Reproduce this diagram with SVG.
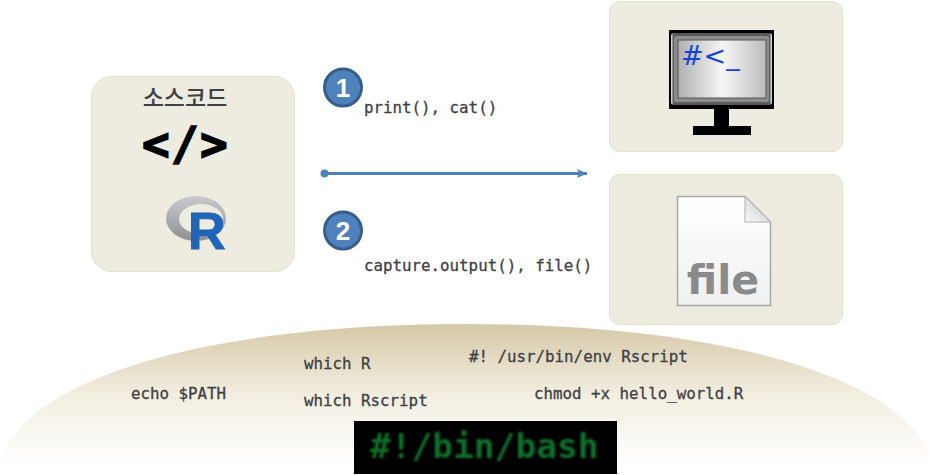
<svg xmlns="http://www.w3.org/2000/svg" width="933" height="475" viewBox="0 0 933 475">
<style>
.card{fill:#eeece1;stroke:#dde5c5;stroke-width:1}
.code{font-family:"DejaVu Sans Mono","Liberation Mono",monospace;font-size:15.8px;fill:#3f3f46;stroke:#3f3f46;stroke-width:.3}
.badge{fill:#4f81bd;stroke:#385d8a;stroke-width:3}
.num{font-family:"Liberation Sans",Arial,sans-serif;font-size:26px;font-weight:700;fill:#fff;text-anchor:middle}
</style>
<defs>
<linearGradient id="hill" x1="0" y1="0" x2="0" y2="1"><stop offset="0" stop-color="#d6c9a8"/><stop offset=".5" stop-color="#f2eee0"/><stop offset="1" stop-color="#fff"/></linearGradient>
<linearGradient id="screen" x1="0" y1="0" x2="1" y2="0"><stop offset="0" stop-color="#b0b0b0"/><stop offset=".5" stop-color="#f6f6f6"/><stop offset=".65" stop-color="#e6e6e6"/><stop offset="1" stop-color="#bcbcbc"/></linearGradient>
<linearGradient id="bezel" x1="0" y1="0" x2="1" y2="0"><stop offset="0" stop-color="#f0f0f0"/><stop offset=".025" stop-color="#5a5a5a"/><stop offset=".975" stop-color="#5a5a5a"/><stop offset="1" stop-color="#f0f0f0"/></linearGradient>
<linearGradient id="paper" x1="0" y1="0" x2="0" y2="1"><stop offset="0" stop-color="#fff"/><stop offset="1" stop-color="#f0f0f0"/></linearGradient>
<linearGradient id="fold" x1="0" y1="1" x2="1" y2="0"><stop offset="0" stop-color="#fafafa"/><stop offset="1" stop-color="#c4c4c4"/></linearGradient>
<linearGradient id="ring" x1="0" y1="0" x2="0" y2="1"><stop offset="0" stop-color="#c9cacd"/><stop offset="1" stop-color="#8f9095"/></linearGradient>
<filter id="soft" x="-5%" y="-20%" width="110%" height="140%"><feGaussianBlur stdDeviation=".9"/></filter>
<marker id="arrow" markerUnits="userSpaceOnUse" markerWidth="11" markerHeight="10" refX="10" refY="5" orient="auto"><path d="M0 .5L10 5L0 9.500L2 5Z" fill="#4f81bd"/></marker>
</defs>
<g id="hill-node">
<path d="M0 466C15 385 190 324 466 324C742 324 917 385 932 466Z" fill="url(#hill)"/>
<text class="code" x="131" y="399">echo $PATH</text>
<text class="code" x="304" y="369">which R</text>
<text class="code" x="304" y="406">which Rscript</text>
<text class="code" x="469" y="362">#! /usr/bin/env Rscript</text>
<text class="code" x="534" y="399">chmod +x hello_world.R</text>
<rect x="354" y="421" width="263" height="53" fill="#000"/>
<text x="370" y="458" font-family="'DejaVu Sans Mono',monospace" font-size="34.500px" font-weight="700" fill="#0d6f2a" filter="url(#soft)">#!/bin/bash</text>
</g>
<g id="source">
<rect class="card" x="91.500" y="76.500" width="203" height="195" rx="20"/>
<text x="185" y="106" font-family="'Noto Sans CJK KR',sans-serif" font-size="23px" font-weight="500" fill="#3f3f46" text-anchor="middle">소스코드</text>
<text x="185.500" y="160" font-family="'DejaVu Sans Mono',monospace" font-size="46px" font-weight="700" letter-spacing="1.300" fill="#000" stroke="#000" stroke-width="1.500" text-anchor="middle">&lt;/&gt;</text>
<path fill-rule="evenodd" d="M166 218.500a30 22.500 0 1 0 60 0a30 22.500 0 1 0-60 0ZM179 219a22 15 0 1 0 44 0a22 15 0 1 0-44 0Z" fill="url(#ring)"/>
<text x="188" y="249" font-family="'Liberation Sans',sans-serif" font-size="52px" font-weight="700" fill="#1f66b8" stroke="#1f66b8" stroke-width="1">R</text>
</g>
<g id="screen-node">
<rect class="card" x="609.500" y="1.500" width="233" height="150" rx="10"/>
<rect x="669" y="30" width="105" height="79" fill="#000"/>
<rect x="671" y="33" width="101" height="72" rx="3" fill="url(#bezel)"/>
<rect x="674" y="36" width="95" height="66" rx="2" fill="#8c8c8c"/>
<rect x="678" y="40" width="88" height="58" fill="url(#screen)" stroke="#555" stroke-width="1"/>
<rect x="714" y="108" width="15" height="19" fill="#000"/>
<rect x="693" y="126" width="58" height="9" fill="#000"/>
<text x="681" y="65" font-family="'DejaVu Sans',sans-serif" font-size="27px" fill="#1443d8">#&lt;_</text>
</g>
<g id="file-node">
<rect class="card" x="609.500" y="174.500" width="233" height="150" rx="10"/>
<path d="M677.500 196.500H745L770.500 222V305.500H677.500Z" fill="url(#paper)" stroke="#a8a8a8" stroke-width="1.500"/>
<path d="M745 196.500L770.500 222H745Z" fill="url(#fold)" stroke="#b0b0b0"/>
<text x="723" y="294" font-family="'DejaVu Sans',sans-serif" font-size="41px" font-weight="700" fill="#8a8a8a" text-anchor="middle">file</text>
</g>
<g id="badge-1"><circle class="badge" cx="343" cy="87.500" r="18.500"/><text class="num" x="343" y="97">1</text></g>
<g id="badge-2"><circle class="badge" cx="343" cy="230.500" r="18.500"/><text class="num" x="343" y="240">2</text></g>
<text class="code" x="364" y="113">print(), cat()</text>
<text class="code" x="364" y="271">capture.output(), file()</text>
<g id="connectors">
<circle cx="324.500" cy="173.500" r="4" fill="#4f81bd"/>
<line x1="324" y1="173.500" x2="587" y2="173.500" stroke="#4f81bd" stroke-width="3" marker-end="url(#arrow)"/>
</g>
</svg>
